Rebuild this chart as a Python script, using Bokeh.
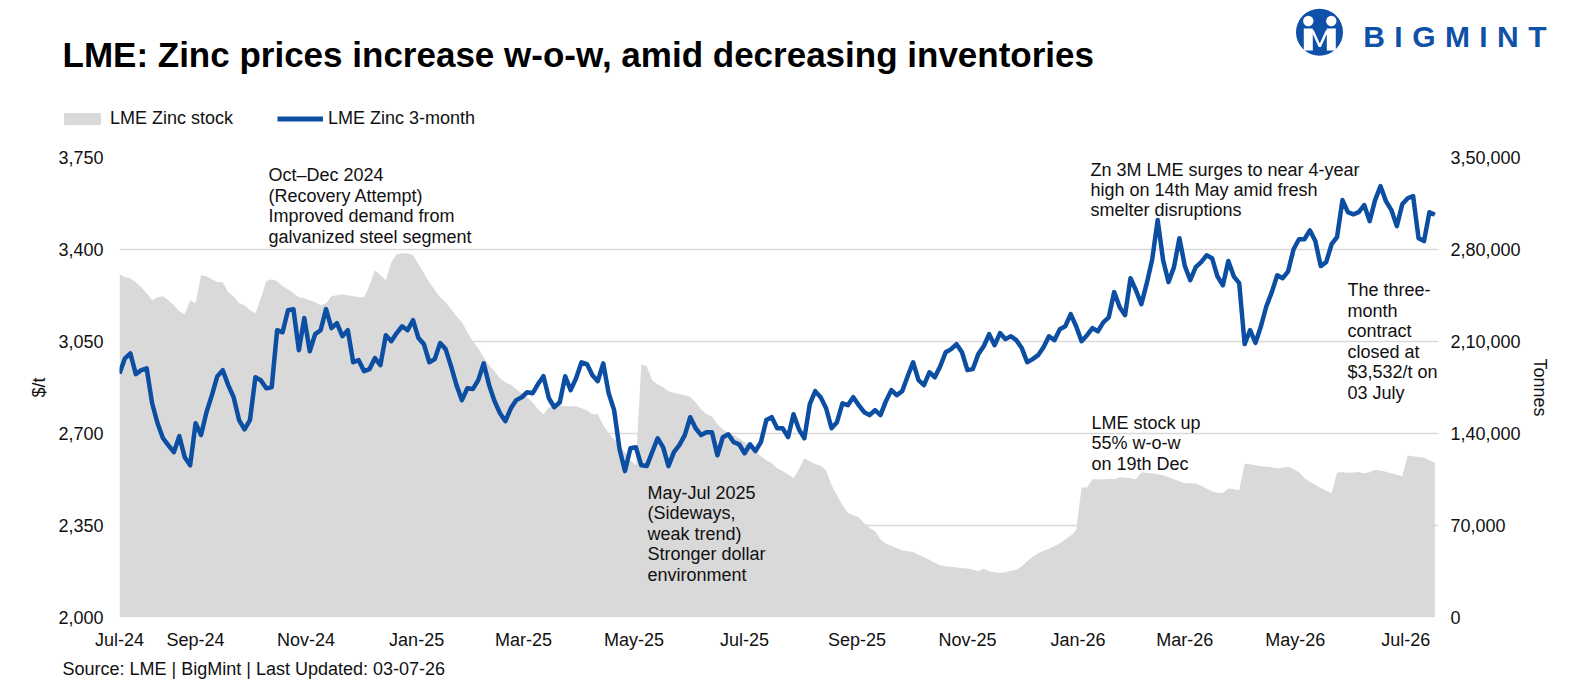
import pandas as pd
from bokeh.plotting import figure
from bokeh.layouts import column
from bokeh.models import (Range1d, LinearAxis, FixedTicker, Label, Legend, LegendItem,
                          ColumnDataSource, NumeralTickFormatter)
from bokeh.embed import file_html
from bokeh.resources import INLINE

# ---------------- data ----------------
start_date = "2024-07-21"      # first observation, series sampled every 3 days
step = "3D"
x_end_date = "2026-07-19"

# LME Zinc 3-month price, $/t
price = [
    2928, 2986, 3005, 2926, 2941, 2948, 2815, 2739, 2682, 2655,
    2629, 2690, 2610, 2579, 2739, 2694, 2781, 2846, 2918, 2941,
    2884, 2838, 2751, 2716, 2751, 2914, 2903, 2872, 2876, 3093,
    3085, 3169, 3173, 3017, 3139, 3013, 3078, 3093, 3173, 3101,
    3120, 3070, 3093, 2971, 2979, 2937, 2945, 2987, 2960, 3074,
    3051, 3082, 3108, 3093, 3131, 3063, 3040, 2971, 2983, 3044,
    3021, 2956, 2884, 2827, 2872, 2869, 2903, 2967, 2884, 2823,
    2777, 2747, 2796, 2827, 2838, 2857, 2853, 2888, 2918, 2834,
    2800, 2819, 2918, 2865, 2910, 2971, 2964, 2922, 2899, 2967,
    2853, 2789, 2640, 2557, 2644, 2648, 2579, 2576, 2629, 2682,
    2648, 2576, 2629, 2656, 2694, 2762, 2720, 2694, 2705, 2705,
    2617, 2686, 2697, 2667, 2659, 2625, 2659, 2633, 2667, 2751,
    2762, 2720, 2720, 2686, 2773, 2716, 2682, 2812, 2861, 2838,
    2796, 2720, 2743, 2815, 2808, 2838, 2808, 2781, 2770, 2789,
    2770, 2823, 2865, 2846, 2861, 2918, 2971, 2903, 2884, 2933,
    2914, 2956, 3009, 3021, 3040, 3009, 2941, 2945, 3002, 3032,
    3078, 3036, 3082, 3059, 3070, 3055, 3025, 2971, 2983, 2998,
    3028, 3070, 3055, 3097, 3108, 3154, 3108, 3051, 3074, 3101,
    3089, 3123, 3142, 3238, 3181, 3150, 3291, 3245, 3192, 3272,
    3363, 3512, 3359, 3276, 3333, 3443, 3337, 3283, 3333, 3352,
    3378, 3367, 3298, 3264, 3356, 3298, 3272, 3040, 3093, 3045,
    3108, 3184, 3238, 3302, 3291, 3317, 3401, 3439, 3439, 3473,
    3432, 3337, 3352, 3420, 3447, 3588, 3542, 3534, 3542, 3569,
    3508, 3588, 3641, 3584, 3550, 3489, 3572, 3595, 3603, 3443,
    3432, 3542, 3532,
]

# LME Zinc stock, tonnes
stock = [
    261200, 258900, 258200, 255100, 251300, 246800, 241400, 243700, 244500, 241400,
    237600, 233100, 230800, 241400, 239100, 260400, 259700, 257400, 255300, 255100,
    247500, 244500, 239100, 237600, 233800, 231500, 242900, 255900, 257400, 255900,
    252100, 249800, 246800, 243700, 242900, 241400, 239900, 237600, 239100, 244500,
    245200, 246000, 245200, 244500, 243700, 243700, 252800, 264200, 260400, 256600,
    270300, 276400, 277200, 277200, 275700, 268800, 262000, 255100, 249100, 243700,
    239900, 234600, 229300, 224700, 217100, 210200, 204900, 198000, 192000, 187400,
    182100, 179000, 177100, 173700, 170700, 167600, 163800, 158500, 154700, 160000,
    160800, 161500, 160800, 160800, 160800, 159300, 157700, 154700, 154700, 146300,
    140200, 135700, 131100, 125800, 119700, 115900, 192700, 191200, 180600, 177500,
    175200, 172200, 171000, 169900, 169100, 167800, 163800, 158500, 154700, 153200,
    147100, 143300, 140200, 138700, 136400, 133400, 130300, 126500, 122700, 119700,
    117400, 113600, 111300, 109000, 106000, 112800, 121200, 118900, 116600, 115500,
    112100, 100700, 93100, 85500, 79700, 77800, 76300, 71800, 68300, 65600,
    59600, 56200, 54600, 52700, 51200, 50400, 49900, 47800, 45900, 44000,
    41700, 39800, 39000, 38600, 38000, 37500, 37300, 36400, 35200, 37100,
    35200, 34500, 33900, 34500, 35600, 36400, 39000, 42800, 46300, 48900,
    50800, 52300, 54300, 56500, 59600, 62200, 66400, 98900, 98900, 105200,
    105200, 105000, 105600, 105200, 106800, 106500, 106000, 105200, 110600, 110200,
    109800, 109000, 108300, 106800, 105200, 103700, 102200, 102200, 102000, 100300,
    98200, 96100, 94800, 94800, 98200, 97600, 96900, 117000, 116600, 115900,
    115100, 114700, 114400, 113600, 114000, 114700, 112800, 110600, 106000, 103200,
    101000, 98500, 96500, 94600, 110200, 110700, 110200, 110400, 110700, 109800,
    110600, 112500, 111800, 110900, 109800, 108600, 107500, 123300, 122700, 122100,
    121600, 119700, 117800,
]

x_tick_dates = ["2024-07-21", "2024-09-01", "2024-11-01", "2025-01-01", "2025-03-01",
                "2025-05-01", "2025-07-01", "2025-09-01", "2025-11-01", "2026-01-01",
                "2026-03-01", "2026-05-01", "2026-07-01"]
x_tick_labels = ["Jul-24", "Sep-24", "Nov-24", "Jan-25", "Mar-25", "May-25", "Jul-25",
                 "Sep-25", "Nov-25", "Jan-26", "Mar-26", "May-26", "Jul-26"]
price_ticks = [2000, 2350, 2700, 3050, 3400, 3750]
stock_ticks = [0, 70000, 140000, 210000, 280000, 350000]
stock_tick_labels = ["0", "70,000", "1,40,000", "2,10,000", "2,80,000", "3,50,000"]

title_text = "LME: Zinc prices increase w-o-w, amid decreasing inventories"
source_text = "Source: LME | BigMint | Last Updated: 03-07-26"
series_names = ["LME Zinc stock", "LME Zinc 3-month"]
note_oct = ["Oct\u2013Dec 2024", "(Recovery Attempt)", "Improved demand from", "galvanized steel segment"]
note_may25 = ["May-Jul 2025", "(Sideways,", "weak trend)", "Stronger dollar", "environment"]
note_high = ["Zn 3M LME surges to near 4-year", "high on 14th May amid fresh", "smelter disruptions"]
note_stock = ["LME stock up", "55% w-o-w", "on 19th Dec"]
note_close = ["The three-", "month", "contract", "closed at", "$3,532/t on", "03 July"]

# ---------------- styling ----------------
BLUE = "#0b4ea2"
LOGO_BLUE = "#0f51a8"
GREY = "#d9d9d9"
TXT = "#111111"
FONT = "Liberation Sans"
W, H = 1579, 686
HEAD_H = 140          # header strip (title, logo, legend)
FOOT_H = 26           # footer strip (source)
MAIN_H = H - HEAD_H - FOOT_H
FL, FR, FT, FB = 119, 1438, 157, 617   # frame edges on the page


def ms(d):
    return pd.Timestamp(d).value / 1e6


def strip_figure(height):
    f = figure(width=W, height=height, x_range=Range1d(0, W), y_range=Range1d(height, 0),
               output_backend="svg", toolbar_location=None, frame_align=False,
               min_border_left=0, min_border_right=0, min_border_top=0, min_border_bottom=0)
    f.axis.visible = False
    f.grid.visible = False
    f.outline_line_color = None
    f.background_fill_color = "white"
    f.border_fill_color = "white"
    return f


def text_label(text, x, y, size, bold=False, color=TXT, align="left", units="data"):
    # y is the vertical centre of the text line
    return Label(x=x, y=y, x_units=units, y_units=units, text=text, text_font=FONT,
                 text_font_size=f"{size}px", text_font_style="bold" if bold else "normal",
                 text_color=color, text_align=align, text_baseline="middle")


# ---------------- header ----------------
head = strip_figure(HEAD_H)
head.add_layout(text_label(title_text, 62, 53.5, 35, bold=True, color="#000000"))

# logo: circle emblem + spaced letters
head.circle(x=[1319], y=[31.7], radius=23.5, fill_color=LOGO_BLUE, line_color=None)
head.circle(x=[1307.8, 1330.8], y=[20.5, 20.5], radius=5.2, fill_color="white", line_color=None)
head.quad(left=[1303.3, 1326.3], right=[1312.3, 1335.3], top=[28, 28], bottom=[50, 50],
          fill_color="white", line_color=None)
head.multi_line(xs=[[1312, 1319.3, 1326.6]], ys=[[30, 46, 30]], line_color="white",
                line_width=2.5)
for letter, cx in zip("BIGMINT", [1373.5, 1398.0, 1423.3, 1456.9, 1483.0, 1507.4, 1536.9]):
    head.add_layout(text_label(letter, cx, 36.0, 30, bold=True, color=LOGO_BLUE,
                               align="center"))

# legend: library legend, tied to renderers styled like the chart series
# (the stand-in renderers sit outside the visible strip)
leg_area = head.varea(x=[-50, -40], y1=[0, 0], y2=[5, 5], fill_color=GREY)
leg_line = head.line(x=[-50, -40], y=[5, 5], line_color=BLUE, line_width=5)
legend = Legend(items=[LegendItem(label=series_names[0], renderers=[leg_area]),
                       LegendItem(label=series_names[1], renderers=[leg_line])],
                location=(59, HEAD_H - 129), orientation="horizontal",
                glyph_width=46, glyph_height=15, label_standoff=5, spacing=44,
                padding=0, margin=0, border_line_color=None, background_fill_alpha=0,
                label_text_font=FONT, label_text_font_size="18px", label_text_color=TXT)
head.add_layout(legend)

# ---------------- main chart ----------------
dates = pd.date_range(start_date, periods=len(price), freq=step)
src = ColumnDataSource(dict(date=dates, price=price, stock=stock))

p = figure(width=W, height=MAIN_H, x_axis_type="datetime", output_backend="svg",
           toolbar_location=None,
           x_range=Range1d(ms(start_date), ms(x_end_date)),
           y_range=Range1d(2000, 3750),
           min_border_left=FL, min_border_right=W - FR,
           min_border_top=FT - HEAD_H, min_border_bottom=(H - FOOT_H) - FB)
p.outline_line_color = None
p.background_fill_color = "white"
p.border_fill_color = "white"
p.extra_y_ranges = {"stock": Range1d(0, 350000)}

p.varea(x="date", y1=0, y2="stock", source=src, y_range_name="stock",
        fill_color=GREY, fill_alpha=1.0)
p.line(x="date", y="price", source=src, line_color=BLUE, line_width=4.5,
       line_join="round")

p.xgrid.visible = False
p.ygrid.ticker = FixedTicker(ticks=price_ticks)
p.ygrid.grid_line_color = GREY
p.ygrid.grid_line_width = 1.5


def style_axis(ax):
    ax.axis_line_color = None
    ax.major_tick_line_color = None
    ax.minor_tick_line_color = None
    ax.major_tick_out = 0
    ax.major_tick_in = 0
    ax.minor_tick_out = 0
    ax.major_label_text_font = FONT
    ax.major_label_text_font_size = "18px"
    ax.major_label_text_color = TXT
    ax.axis_label_text_font = FONT
    ax.axis_label_text_font_size = "18px"
    ax.axis_label_text_font_style = "normal"
    ax.axis_label_text_color = TXT


xa = p.xaxis[0]
style_axis(xa)
xa.ticker = FixedTicker(ticks=[ms(d) for d in x_tick_dates])
xa.major_label_overrides = {ms(d): lab for d, lab in zip(x_tick_dates, x_tick_labels)}
xa.major_label_standoff = 12

ya = p.yaxis[0]
style_axis(ya)
ya.ticker = FixedTicker(ticks=price_ticks)
ya.formatter = NumeralTickFormatter(format="0,0")
ya.major_label_standoff = 16
ya.axis_label = "$/t"
ya.axis_label_standoff = 6

ra = LinearAxis(y_range_name="stock", ticker=FixedTicker(ticks=stock_ticks),
                major_label_overrides={t: l for t, l in zip(stock_ticks, stock_tick_labels)},
                axis_label="Tonnes")
style_axis(ra)
ra.major_label_standoff = 12
ra.axis_label_standoff = 6
p.add_layout(ra, "right")


def add_note(lines, X, first_center, lh):
    for k, t in enumerate(lines):
        cy = first_center + k * lh
        p.add_layout(text_label(t, X - FL, FB - cy, 18, units="screen"))


add_note(note_oct, 268, 174.8, 20.5)
add_note(note_may25, 647, 492.5, 20.4)
add_note(note_high, 1090, 169.8, 20.0)
add_note(note_stock, 1091, 422.5, 20.3)
add_note(note_close, 1347, 289.8, 20.46)

# ---------------- footer ----------------
foot = strip_figure(FOOT_H)
foot.add_layout(text_label(source_text, 62, 668.6 - (H - FOOT_H), 18))

layout = column(head, p, foot, spacing=0)
open("out.html", "w").write(file_html(layout, INLINE))
